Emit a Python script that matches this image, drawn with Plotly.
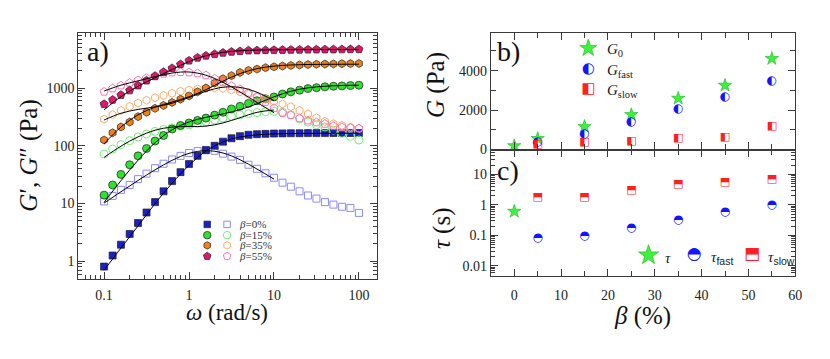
import plotly.graph_objects as go

# ---------------- data : panel a ----------------
omega = [0.1, 0.126, 0.158, 0.2, 0.251, 0.316, 0.398, 0.501, 0.631, 0.794, 1, 1.26, 1.58, 2, 2.51,
         3.16, 3.98, 5.01, 6.31, 7.94, 10, 12.6, 15.8, 20, 25.1, 31.6, 39.8, 50.1, 63.1, 79.4, 100]

G1_b0 = [0.81, 1.26, 1.94, 2.98, 4.6, 7.0, 10.6, 16.3, 24.5, 35, 48.6, 67, 84, 100, 118, 135, 147, 155,
         159, 161, 163, 164, 165, 165, 166, 166, 166, 167, 167, 167, 167]
G2_b0 = [10.9, 13.6, 17.3, 21, 26.5, 33, 41, 49, 58, 67, 75, 81, 85, 82, 73, 65, 57, 47, 40, 33.5, 28,
         23, 19.6, 16.3, 13.8, 12.2, 10.6, 9.6, 8.8, 8.4, 6.9]
G1_b15 = [14, 21, 32, 47, 67, 90, 121, 151, 195, 225, 248, 275, 302, 340, 381, 434, 482, 542, 603, 655,
          700, 790, 860, 920, 980, 1015, 1050, 1075, 1090, 1105, 1120]
G2_b15 = [72, 88, 105, 123, 142, 160, 178, 192, 205, 218, 230, 245, 262, 282, 303, 325, 343, 360, 375,
          388, 395, 383, 345, 294, 258, 232, 212, 187, 164, 146, 126]
G1_b35 = [126, 168, 212, 258, 320, 381, 445, 500, 563, 641, 731, 860, 1000, 1220, 1450, 1640, 1860, 2020,
          2130, 2250, 2330, 2400, 2460, 2510, 2550, 2580, 2600, 2620, 2640, 2650, 2660]
G2_b35 = [290, 345, 410, 480, 550, 615, 680, 745, 810, 880, 925, 965, 1000, 1005, 990, 930, 860, 785,
          715, 650, 590, 530, 476, 407, 357, 305, 265, 241, 225, 210, 199]
G1_b55 = [527, 625, 760, 910, 1107, 1345, 1597, 1890, 2207, 2580, 2980, 3350, 3630, 3860, 4070, 4235,
          4340, 4460, 4480, 4520, 4540, 4560, 4580, 4600, 4620, 4640, 4650, 4660, 4670, 4680, 4690]
G2_b55 = [865, 984, 1107, 1230, 1365, 1495, 1636, 1770, 1864, 1890, 1864, 1795, 1660, 1455, 1260, 1090,
          955, 830, 700, 575, 450, 370, 340, 300, 275, 255, 240, 222, 210, 204, 200]

# fitted curves
omega_fit = [0.1, 0.158, 0.251, 0.398, 0.631, 1, 1.58, 2.51, 3.98, 6.31, 10, 15.8, 25.1, 39.8, 63.1, 100]
omega_fit2 = omega_fit[:11]
fit1_b0 = [0.7, 1.7, 4.1, 10, 22.5, 46, 81, 117, 142, 155, 161, 163, 164, 165, 165, 165]
fit2_b0 = [10.2, 16.0, 25.1, 38.4, 56, 74, 82.5, 75, 57.5, 39.6, 26.5]
fit1_b15 = [10.5, 24.9, 56.4, 113, 189, 259, 311, 357, 422, 535, 704, 881, 1008, 1076, 1108, 1121]
fit2_b15 = [63, 98.6, 142.8, 186, 211, 215, 219, 249, 307, 380, 417]
fit1_b35 = [108, 211, 343, 467, 573, 707, 936, 1316, 1780, 2167, 2398, 2508, 2557, 2577, 2584, 2588]
fit2_b35 = [280, 366, 427, 471, 545, 685, 876, 1033, 1026, 845, 607]
fit1_b55 = [420, 708, 1076, 1506, 2100, 2879, 3634, 4152, 4422, 4544, 4596, 4616, 4625, 4628, 4629, 4630]
fit2_b55 = [888, 1122, 1333, 1575, 1821, 1897, 1668, 1256, 859, 562, 375]

legend_labels = ["β=0%", "β=15%", "β=35%", "β=55%"]

# ---------------- data : panels b, c ----------------
beta = [0, 5, 15, 25, 35, 45, 55]
beta_2 = [5, 15, 25, 35, 45, 55]
G0 = [180, 545, 1160, 1760, 2590, 3250, 4610]
G_fast = [380, 800, 1390, 2040, 2640, 3450]
G_slow = [270, 370, 420, 570, 630, 1180]
tau0_beta = [0]
tau0 = [0.61]
tau_fast = [0.085, 0.094, 0.18, 0.31, 0.60, 1.0]
tau_slow = [1.8, 1.8, 3.1, 4.9, 5.3, 6.7]

SERIF = "Liberation Serif"
GLYPH = "DejaVu Sans"
AX = "#3a3a3a"
STAR_FILL = "#3df23d"
STAR_LINE = "#2cc02c"

fig = go.Figure()

series = [
    (G1_b0, G2_b0, "square", "square-open", 7, "#1a20cc", "#8a8aff"),
    (G1_b15, G2_b15, "circle", "circle-open", 8, "#2ee22e", "#77ee77"),
    (G1_b35, G2_b35, "hexagon", "hexagon-open", 8, "#f08018", "#ffaa66"),
    (G1_b55, G2_b55, "pentagon", "pentagon-open", 8.5, "#e3156f", "#ff72b4"),
]
for g1, g2, sf, so, sz, cf, co in series:
    fig.add_trace(go.Scatter(x=omega, y=g2, mode="markers", xaxis="x", yaxis="y", showlegend=False,
                             marker=dict(symbol=so, size=sz, color=co, line=dict(color=co, width=1.0))))
    fig.add_trace(go.Scatter(x=omega, y=g1, mode="markers", xaxis="x", yaxis="y", showlegend=False,
                             marker=dict(symbol=sf, size=sz, color=cf, line=dict(color="#202020", width=0.7))))

for f1, f2 in [(fit1_b0, fit2_b0), (fit1_b15, fit2_b15), (fit1_b35, fit2_b35), (fit1_b55, fit2_b55)]:
    fig.add_trace(go.Scatter(x=omega_fit, y=f1, mode="lines", line=dict(color="black", width=1, shape="spline"),
                             xaxis="x", yaxis="y", showlegend=False))
    fig.add_trace(go.Scatter(x=omega_fit2, y=f2, mode="lines", line=dict(color="black", width=1, shape="spline"),
                             xaxis="x", yaxis="y", showlegend=False))

# panel b
fig.add_trace(go.Scatter(x=beta, y=G0, mode="markers", xaxis="x2", yaxis="y2", showlegend=False,
                         marker=dict(symbol="star", size=10, color=STAR_FILL, line=dict(color=STAR_LINE, width=0.7))))
fig.add_trace(go.Scatter(x=beta_2, y=G_fast, mode="text", text=["◐"] * len(beta_2), xaxis="x2", yaxis="y2",
                         textposition="middle center", showlegend=False,
                         textfont=dict(family=GLYPH, size=12, color="#1414ff")))
fig.add_trace(go.Scatter(x=beta_2, y=G_slow, mode="text", text=["◧"] * len(beta_2), xaxis="x2", yaxis="y2",
                         textposition="middle center", showlegend=False,
                         textfont=dict(family=GLYPH, size=11, color="#ff2020")))
# panel c
fig.add_trace(go.Scatter(x=tau0_beta, y=tau0, mode="markers", xaxis="x3", yaxis="y3", showlegend=False,
                         marker=dict(symbol="star", size=10, color=STAR_FILL, line=dict(color=STAR_LINE, width=0.7))))
fig.add_trace(go.Scatter(x=beta_2, y=tau_fast, mode="text", text=["◓"] * len(beta_2), xaxis="x3", yaxis="y3",
                         textposition="middle center", showlegend=False,
                         textfont=dict(family=GLYPH, size=12, color="#1414ff")))
fig.add_trace(go.Scatter(x=beta_2, y=tau_slow, mode="text", text=["⬒"] * len(beta_2), xaxis="x3", yaxis="y3",
                         textposition="middle center", showlegend=False,
                         textfont=dict(family=GLYPH, size=11, color="#ff2020")))

# ---------------- manual legends (overlay axis in paper units) ----------------
leg_rows = [0.3607, 0.3300, 0.3008, 0.2702]
for i, (g1, g2, sf, so, sz, cf, co) in enumerate(series):
    fig.add_trace(go.Scatter(x=[0.2518], y=[leg_rows[i]], mode="markers", xaxis="x4", yaxis="y4", showlegend=False,
                             marker=dict(symbol=sf, size=sz - 0.5, color=cf, line=dict(color="#202020", width=0.7))))
    fig.add_trace(go.Scatter(x=[0.2759], y=[leg_rows[i]], mode="markers", xaxis="x4", yaxis="y4", showlegend=False,
                             marker=dict(symbol=so, size=sz - 0.5, color=co, line=dict(color=co, width=1.0))))

fig.add_trace(go.Scatter(x=[0.7148], y=[0.8627], mode="markers", xaxis="x4", yaxis="y4", showlegend=False,
                         marker=dict(symbol="star", size=13, color=STAR_FILL, line=dict(color=STAR_LINE, width=0.7))))
fig.add_trace(go.Scatter(x=[0.7148, 0.7148], y=[0.8031, 0.7457], mode="text", text=["◐", "◧"], xaxis="x4",
                         yaxis="y4", showlegend=False, textposition="middle center",
                         textfont=dict(family=GLYPH, size=15, color=["#1414ff", "#ff2020"])))
fig.add_trace(go.Scatter(x=[0.788], y=[0.273], mode="markers", xaxis="x4", yaxis="y4", showlegend=False,
                         marker=dict(symbol="star", size=15, color=STAR_FILL, line=dict(color=STAR_LINE, width=0.7))))
fig.add_trace(go.Scatter(x=[0.8434, 0.9137], y=[0.273, 0.273], mode="text", text=["◓", "⬒"], xaxis="x4",
                         yaxis="y4", showlegend=False, textposition="middle center",
                         textfont=dict(family=GLYPH, size=17, color=["#1414ff", "#ff2020"])))

ann = []
for i, lab in enumerate(legend_labels):
    ann.append(dict(x=0.2885, y=leg_rows[i], xref="paper", yref="paper", xanchor="left", yanchor="middle",
                    text=lab.replace("β", "<i>β</i>"), showarrow=False, font=dict(family=SERIF, size=11, color="#333")))
for txt, yy in [("<i>G</i><sub>0</sub>", 0.858), ("<i>G</i><sub>fast</sub>", 0.798), ("<i>G</i><sub>slow</sub>", 0.740)]:
    ann.append(dict(x=0.735, y=yy, xref="paper", yref="paper", xanchor="left", yanchor="middle", text=txt,
                    showarrow=False, font=dict(family=SERIF, size=15, color="#222")))
SANS_SUB = "<sub><span style='font-family:Liberation Sans'>{}</span></sub>"
for txt, xx in [("<i>τ</i>", 0.806), ("<i>τ</i>" + SANS_SUB.format("fast"), 0.862),
                ("<i>τ</i>" + SANS_SUB.format("slow"), 0.931)]:
    ann.append(dict(x=xx, y=0.266, xref="paper", yref="paper", xanchor="left", yanchor="middle", text=txt,
                    showarrow=False, font=dict(family=SERIF, size=15, color="#222")))

# titles and panel labels (explicit centre anchoring)
def centred(x, y, text, size, angle=0):
    return dict(x=x, y=y, xref="paper", yref="paper", xanchor="center", yanchor="middle", text=text,
                textangle=angle, showarrow=False, font=dict(family=SERIF, size=size, color="#111"))

ann += [
    centred(0.035, 0.556, "<i>G</i>′, <i>G</i>″ (Pa)", 25, -90),
    centred(0.276, 0.111, "<i>ω</i> (rad/s)", 23),
    centred(0.529, 0.759, "<i>G</i> (Pa)", 25, -90),
    centred(0.537, 0.350, "<i>τ</i> (s)", 25, -90),
    centred(0.781, 0.100, "<i>β</i> (%)", 25),
    centred(0.119, 0.852, "a)", 28),
    centred(0.618, 0.854, "b)", 28),
    centred(0.617, 0.515, "c)", 28),
]

tickfont = dict(family=SERIF, size=14, color="#222")
common = dict(showline=True, linecolor=AX, linewidth=1.2, mirror="allticks", ticks="inside", ticklen=7,
              tickcolor=AX, tickwidth=1, showgrid=False, zeroline=False, tickfont=tickfont)
minor_log = dict(ticks="inside", ticklen=4, tickcolor=AX, dtick="D1", showgrid=False)

fig.update_layout(
    width=830, height=359, margin=dict(l=0, r=0, t=0, b=0),
    paper_bgcolor="white", plot_bgcolor="rgba(0,0,0,0)", showlegend=False,
    font=dict(family=SERIF),
    xaxis=dict(domain=[0.0952, 0.4578], type="log", range=[-1.303, 2.21], anchor="y", ticklabelstandoff=3,
               tickvals=[0.1, 1, 10, 100], ticktext=["0.1", "1", "10", "100"], minor=minor_log, **common),
    yaxis=dict(domain=[0.2061, 0.9053], type="log", range=[-0.3, 3.949], anchor="x",
               tickvals=[1, 10, 100, 1000], ticktext=["1", "10", "100", "1000"], minor=minor_log, **common),
    xaxis2=dict(domain=[0.5964, 0.9663], range=[-5, 60], anchor="y2", dtick=10, showticklabels=False,
                minor=dict(ticks="inside", ticklen=5, tickcolor=AX, dtick=5), **common),
    yaxis2=dict(domain=[0.5738, 0.9053], range=[-10, 5900], anchor="x2", tickvals=[0, 2000, 4000],
                minor=dict(ticks="inside", ticklen=5, tickcolor=AX, dtick=1000), **common),
    xaxis3=dict(domain=[0.5964, 0.9663], range=[-5, 60], anchor="y3", dtick=10, ticklabelstandoff=6,
                minor=dict(ticks="inside", ticklen=5, tickcolor=AX, dtick=5), **common),
    yaxis3=dict(domain=[0.2145, 0.5738], type="log", range=[-2.32, 1.81], anchor="x3",
                tickvals=[0.01, 0.1, 1, 10], ticktext=["0.01", "0.1", "1", "10"], minor=minor_log, **common),
    xaxis4=dict(domain=[0, 1], range=[0, 1], visible=False, anchor="y4"),
    yaxis4=dict(domain=[0, 1], range=[0, 1], visible=False, anchor="x4"),
    annotations=ann,
)

fig.write_html("out.html", config={"displayModeBar": False},
               post_script="document.body.style.margin='0px';")
